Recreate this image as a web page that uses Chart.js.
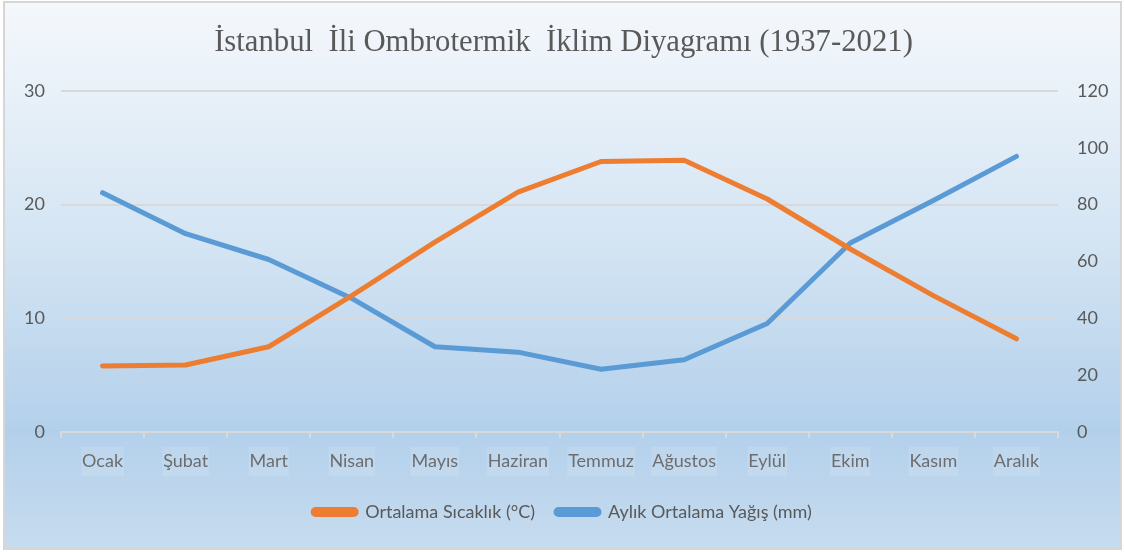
<!DOCTYPE html>
<html>
<head>
<meta charset="utf-8">
<script src="https://cdn.jsdelivr.net/npm/chart.js@4/dist/chart.umd.min.js"></script>
<style>
  body { margin: 0; background: #fff; }
  #wrap { width: 1125px; height: 552px; }
</style>
</head>
<body>
<div id="wrap"><canvas id="chart" width="1125" height="552"></canvas></div>
<script>
const months = ["Ocak", "Şubat", "Mart", "Nisan", "Mayıs", "Haziran", "Temmuz", "Ağustos", "Eylül", "Ekim", "Kasım", "Aralık"];
const temperature = [5.8, 5.9, 7.5, 12.0, 16.7, 21.1, 23.8, 23.9, 20.5, 16.1, 12.0, 8.2];
const rainfall = [84.2, 69.8, 60.7, 47.0, 30.0, 28.1, 22.1, 25.4, 38.2, 66.5, 81.5, 97.0];
const chartTitle = "İstanbul  İli Ombrotermik  İklim Diyagramı (1937-2021)";

const tickFont = { family: "Lato", size: 18 };
const tickColor = "#595959";

// gradient background + thin frame, like the office chart
const backdrop = {
  id: "backdrop",
  beforeDraw(chart) {
    const ctx = chart.ctx;
    const w = chart.width, h = chart.height;
    const g = ctx.createLinearGradient(0, 0, 0, h);
    g.addColorStop(0, "#f5f8fc");
    g.addColorStop(0.45, "#d3e4f3");
    g.addColorStop(0.78, "#b3d0eb");
    g.addColorStop(1, "#c7dcef");
    ctx.save();
    ctx.fillStyle = "#ffffff";
    ctx.fillRect(0, 0, w, h);
    ctx.fillStyle = g;
    ctx.fillRect(4, 2, w - 8, h - 5);
    ctx.strokeStyle = "#d6d6d6";
    ctx.lineWidth = 2;
    ctx.strokeRect(4, 2, w - 8, h - 5);
    ctx.restore();
  }
};

// the title in the picture is a squeezed serif, so draw it by hand
const squeezedTitle = {
  id: "squeezedTitle",
  afterDraw(chart) {
    const ctx = chart.ctx;
    ctx.save();
    ctx.font = "32px 'Liberation Serif'";
    ctx.fillStyle = "#595959";
    ctx.textAlign = "center";
    ctx.textBaseline = "alphabetic";
    ctx.translate(chart.width / 2 + 1, 51);
    ctx.scale(0.96, 1);
    ctx.fillText(chartTitle, 0, 0);
    ctx.restore();
  }
};

// faint lighter boxes behind the month labels
const labelBoxes = {
  id: "labelBoxes",
  beforeDatasetsDraw(chart) {
    const x = chart.scales.x;
    const ctx = chart.ctx;
    ctx.save();
    ctx.font = "18px Lato";
    ctx.fillStyle = "rgba(255,255,255,0.12)";
    months.forEach((m, i) => {
      const cx = x.getPixelForValue(i);
      const tw = ctx.measureText(m).width;
      ctx.fillRect(cx - tw / 2 - 1, 447, tw + 2, 29);
    });
    ctx.restore();
  }
};

new Chart(document.getElementById("chart"), {
  type: "line",
  data: {
    labels: months,
    datasets: [
      {
        label: "Ortalama Sıcaklık (°C)",
        data: temperature,
        yAxisID: "y",
        borderColor: "#ed7d31",
        backgroundColor: "#ed7d31",
        borderWidth: 5,
        borderCapStyle: "round",
        borderJoinStyle: "round",
        pointRadius: 0,
        tension: 0
      },
      {
        label: "Aylık Ortalama Yağış (mm)",
        data: rainfall,
        yAxisID: "y1",
        borderColor: "#5b9bd5",
        backgroundColor: "#5b9bd5",
        borderWidth: 5,
        borderCapStyle: "round",
        borderJoinStyle: "round",
        pointRadius: 0,
        tension: 0
      }
    ]
  },
  options: {
    responsive: false,
    animation: false,
    layout: { padding: { left: 0, right: 0, top: 91, bottom: 21 } },
    plugins: {
      title: { display: false },
      legend: {
        position: "bottom",
        labels: {
          font: tickFont,
          color: tickColor,
          boxWidth: 43,
          boxHeight: 5,
          useBorderRadius: true,
          borderRadius: 2.5,
          padding: 21
        }
      },
      tooltip: { enabled: false }
    },
    scales: {
      x: {
        offset: true,
        grid: {
          offset: true,
          drawOnChartArea: false,
          drawTicks: true,
          tickLength: 6,
          color: "#d9d9d9",
          lineWidth: 2
        },
        border: { color: "#d9d9d9", width: 2 },
        ticks: { font: tickFont, color: tickColor, padding: 12, maxRotation: 0 },
        afterFit(scale) { scale.height = 50; }
      },
      y: {
        position: "left",
        min: 0,
        max: 30,
        ticks: { stepSize: 10, font: tickFont, color: tickColor, padding: 16 },
        grid: { color: "#d9d9d9", lineWidth: 2, drawTicks: false },
        border: { display: false },
        afterFit(scale) { scale.width = 61; }
      },
      y1: {
        position: "right",
        min: 0,
        max: 120,
        ticks: { stepSize: 20, font: tickFont, color: tickColor, padding: 19 },
        grid: { drawOnChartArea: false, drawTicks: false },
        border: { display: false },
        afterFit(scale) { scale.width = 67; }
      }
    }
  },
  plugins: [backdrop, labelBoxes, squeezedTitle]
});
</script>
</body>
</html>
